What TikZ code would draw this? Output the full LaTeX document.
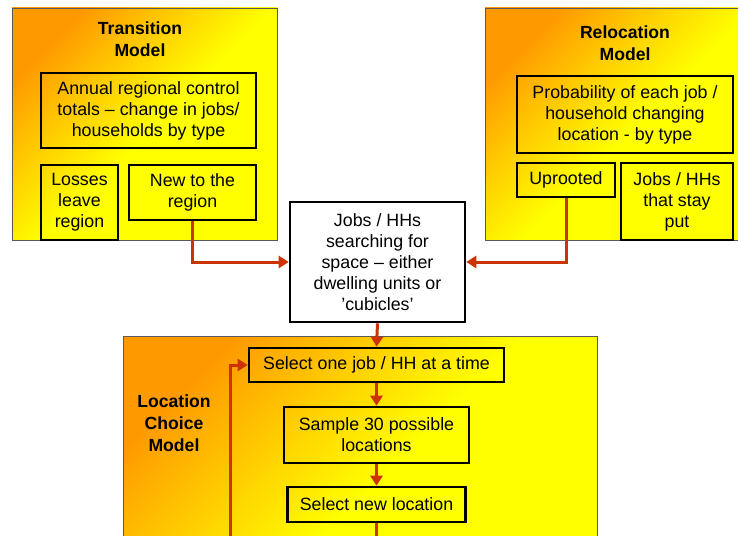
\documentclass[tikz,border=0pt]{standalone}
\usepackage{fontspec}
\setmainfont{Liberation Sans}
\usetikzlibrary{arrows.meta}

\definecolor{panelorange}{HTML}{FF9900}
\definecolor{panelmid}{HTML}{FFCC00}
\definecolor{flowred}{HTML}{CC3300}
\pgfdeclareverticalshading{panelfade}{100bp}{color(0bp)=(yellow); color(25bp)=(yellow); color(48bp)=(yellow); color(62bp)=(panelmid); color(75bp)=(panelorange); color(100bp)=(panelorange)}

\tikzset{
  panel/.style={draw=black!65, line width=0.8pt, shading=panelfade, shading angle=45},
  stagebox/.style={draw=black, line width=2.6pt, align=center, inner sep=2pt},
  paneltitle/.style={align=center, font=\fontsize{17.6}{22}\selectfont\bfseries},
  flow/.style={draw=flowred, line width=3pt, -{Triangle[length=10pt,width=12pt]}},
  flowline/.style={draw=flowred, line width=3pt}
}

\begin{document}
\begin{tikzpicture}[x=1pt, y=-1pt, font=\fontsize{17.8}{21}\selectfont]
  \useasboundingbox (0,0) rectangle (738,535);
  \clip (0,0) rectangle (738,535);
  \fill[white] (0,0) rectangle (738,535);
  \shadedraw[panel] (12,8) rectangle (277,240);
  \shadedraw[panel] (485,8) rectangle (760,240);
  \shadedraw[panel] (123,336) rectangle (597,620);
  \node[paneltitle] (trtitle) at (140,39) {Transition\\Model};
  \node[stagebox, minimum width=215pt, minimum height=75pt] (annual) at (148.5,110.5) {Annual regional control\\totals -- change in jobs/\\households by type};
  \node[stagebox, minimum width=77pt, minimum height=75pt] (losses) at (79.5,202.5) {Losses\\leave\\region};
  \node[stagebox, minimum width=127pt, minimum height=55pt] (newreg) at (192.5,192.5) {New to the\\region};
  \node[paneltitle] (retitle) at (625,43) {Relocation\\Model};
  \node[stagebox, minimum width=216pt, minimum height=77pt] (prob) at (625,114.5) {Probability of each job /\\household changing\\location - by type};
  \node[stagebox, minimum width=98pt, minimum height=34pt] (uproot) at (566,180) {Uprooted};
  \node[stagebox, minimum width=112pt, minimum height=77pt] (stay) at (677,201.5) {Jobs / HHs\\that stay\\put};
  \node[stagebox, fill=white, minimum width=175pt, minimum height=120pt] (jobs) at (377.5,262) {Jobs / HHs\\searching for\\space -- either\\dwelling units or\\’cubicles’};
  \node[paneltitle] (lctitle) at (174,423) {Location\\Choice\\Model};
  \node[stagebox, minimum width=255pt, minimum height=34pt] (select) at (376.5,365) {Select one job / HH at a time};
  \node[stagebox, minimum width=185pt, minimum height=56pt] (sample) at (376.5,435) {Sample 30 possible\\locations};
  \node[stagebox, minimum width=178pt, minimum height=35pt] (newloc) at (376.5,504.5) {Select new location};
  \coordinate (loopstart) at (230,560);
  \coordinate (nextstep) at (376.5,560);
  \draw[flow] (newreg.south) |- (jobs.west);
  \draw[flow] (uproot.south) |- (jobs.east);
  \draw[flow] (jobs.south) -- (select.north);
  \draw[flow] (select.south) -- (sample.north);
  \draw[flow] (sample.south) -- (newloc.north);
  \draw[flowline] (newloc.south) -- (nextstep);
  \draw[flow] (loopstart) |- (select.west);
\end{tikzpicture}
\end{document}
